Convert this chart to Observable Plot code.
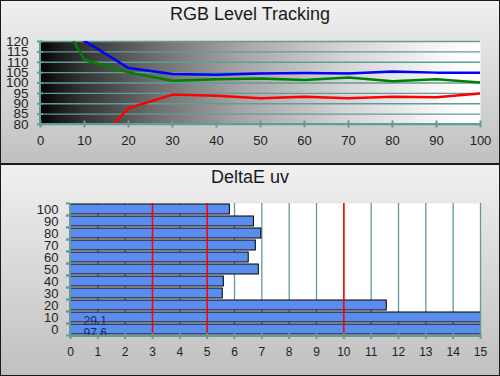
<!DOCTYPE html>
<html><head><meta charset="utf-8">
<script src="https://cdn.jsdelivr.net/npm/d3@7"></script>
<script src="https://cdn.jsdelivr.net/npm/@observablehq/plot@0.6"></script>
<style>
html,body{margin:0;padding:0;background:#fff;}
#wrap{position:relative;width:500px;height:376px;overflow:hidden;font-family:"Liberation Sans",Arial,sans-serif;}
.panel{position:absolute;left:0;width:500px;box-sizing:border-box;border:1px solid #1a1a1a;background:linear-gradient(#f0f0f0,#c0c0c0);}
.title{position:absolute;left:0;width:500px;text-align:center;font-size:18px;color:#1a1a1a;line-height:normal;}
.chart{position:absolute;left:0;}
</style></head><body>
<div id="wrap">
  <div class="panel" style="top:0;height:164px"></div>
  <div class="panel" style="top:164px;height:212px"></div>
  <div class="title" style="top:4px">RGB Level Tracking</div>
  <div class="title" style="top:167px">DeltaE uv</div>
  <div class="chart" id="top" style="top:0"></div>
  <div class="chart" id="bot" style="top:164px"></div>
</div>
<script>
// ---- data: RGB level tracking ----
const levels = [0, 10, 20, 30, 40, 50, 60, 70, 80, 90, 100];
const redLevels = [40, 65.5, 87.8, 94.4, 93.9, 92.6, 93.4, 92.6, 93.4, 93.1, 95.0];
const greenLevels = [148, 111.1, 105.1, 101.1, 101.8, 102.2, 101.5, 102.7, 100.8, 101.8, 100.2];
const blueLevels = [135, 120.3, 107.2, 104.3, 104.0, 104.6, 104.8, 104.6, 105.6, 105.0, 105.0];
const topYTicks = [80, 85, 90, 95, 100, 105, 110, 115, 120];
const topXTicks = [0, 10, 20, 30, 40, 50, 60, 70, 80, 90, 100];

// ---- data: DeltaE uv ----
const deCats = [100, 90, 80, 70, 60, 50, 40, 30, 20, 10, 0];
const deValues = [5.83, 6.71, 6.98, 6.78, 6.52, 6.89, 5.61, 5.57, 11.57, 29.1, 97.6];
const deXTicks = [0, 1, 2, 3, 4, 5, 6, 7, 8, 9, 10, 11, 12, 13, 14, 15];
const deRefLines = [3, 5, 10];

const teal = "#5f9c9a";
const font = '"Liberation Sans", Arial, sans-serif';

function axisLines() {
  return (index, scales, values, dim) => {
    const {width, height, marginLeft, marginRight, marginTop, marginBottom} = dim;
    const g = d3.create("svg:g").attr("stroke", teal).attr("stroke-width", 2);
    g.append("line").attr("x1", marginLeft).attr("x2", width - marginRight)
      .attr("y1", height - marginBottom).attr("y2", height - marginBottom);
    g.append("line").attr("x1", marginLeft).attr("x2", marginLeft)
      .attr("y1", marginTop).attr("y2", height - marginBottom);
    return g.node();
  };
}

const defs = () => {
  const d = d3.create("svg:defs");
  const lg = d.append("linearGradient").attr("id", "bwgrad").attr("x1", 0).attr("x2", 1).attr("y1", 0).attr("y2", 0);
  [[0, "#000"], [0.03, "#141414"], [0.1, "#363636"], [0.25, "#6a6a6a"], [0.45, "#a4a4a4"], [0.7, "#d6d6d6"], [0.95, "#fdfdfd"], [1, "#fff"]]
    .forEach(([o, c]) => lg.append("stop").attr("offset", o).attr("stop-color", c));
  return d.node();
};

const rgbRows = (arr) => levels.map((l, i) => ({level: l, v: arr[i]}));

const topPlot = Plot.plot({
  width: 500, height: 163,
  marginLeft: 40, marginRight: 20, marginTop: 41, marginBottom: 39,
  x: {domain: [0, 100], label: null},
  y: {domain: [80, 120], label: null},
  style: {background: "transparent", fontFamily: font, fontSize: "13px", color: "#222"},
  marks: [
    defs,
    Plot.frame({fill: "url(#bwgrad)"}),
    Plot.ruleY(topYTicks, {stroke: teal, strokeWidth: 1.3}),
    Plot.line(rgbRows(redLevels), {x: "level", y: "v", stroke: "#ff0000", strokeWidth: 2.5, clip: true}),
    Plot.line(rgbRows(greenLevels), {x: "level", y: "v", stroke: "#008000", strokeWidth: 2.5, clip: true}),
    Plot.line(rgbRows(blueLevels), {x: "level", y: "v", stroke: "#0000ff", strokeWidth: 2.5, clip: true}),
    axisLines(),
    Plot.axisX({ticks: topXTicks, tickSize: 7, dy: -3.5, tickFormat: () => "", stroke: teal, strokeWidth: 2, label: null}),
    Plot.axisX({ticks: topXTicks, tickSize: 0, tickPadding: 11, fontSize: 13, label: null}),
    Plot.axisY({ticks: topYTicks, tickSize: 6, dx: 3, tickFormat: () => "", stroke: teal, strokeWidth: 2, label: null}),
    Plot.axisY({ticks: topYTicks, tickSize: 0, tickPadding: 12, fontSize: 13.5, label: null})
  ]
});
document.getElementById("top").append(topPlot);

const deRows = deCats.map((c, i) => ({cat: c, v: deValues[i]}));
const botPlot = Plot.plot({
  width: 500, height: 211,
  marginLeft: 70, marginRight: 20, marginTop: 39, marginBottom: 39,
  x: {domain: [0, 15], label: null},
  y: {type: "band", domain: deCats, paddingInner: 0.16, paddingOuter: 0.06, label: null},
  style: {background: "transparent", fontFamily: font, fontSize: "12px", color: "#222"},
  marks: [
    Plot.frame({fill: "white"}),
    Plot.ruleX(deXTicks, {stroke: teal, strokeWidth: 1.3}),
    Plot.barX(deRows, {x: "v", y: "cat", fill: "#5b8def", stroke: "#000", strokeWidth: 1, clip: true}),
    Plot.ruleX(deRefLines, {stroke: "#ff0000", strokeWidth: 1.5}),
    Plot.text(deRows.filter(d => d.v > 15), {y: "cat", text: d => d.v.toFixed(1), frameAnchor: "left", textAnchor: "start", dx: 13, dy: 4, fill: "#1d2a6b", fontSize: 12}),
    axisLines(),
    Plot.axisX({ticks: deXTicks, tickSize: 6, dy: -3, tickFormat: () => "", stroke: teal, strokeWidth: 2, label: null}),
    Plot.axisX({ticks: deXTicks, tickSize: 0, tickPadding: 11, fontSize: 12, label: null}),
    Plot.axisY({tickSize: 4, dy: 6.07, tickFormat: () => "", stroke: teal, strokeWidth: 2, label: null}),
    Plot.axisY({tickSize: 4, dy: -6.07, tickFormat: () => "", stroke: teal, strokeWidth: 2, label: null}),
    Plot.axisY({tickSize: 0, tickPadding: 12, fontSize: 13, label: null})
  ]
});
document.getElementById("bot").append(botPlot);
</script>
</body></html>
